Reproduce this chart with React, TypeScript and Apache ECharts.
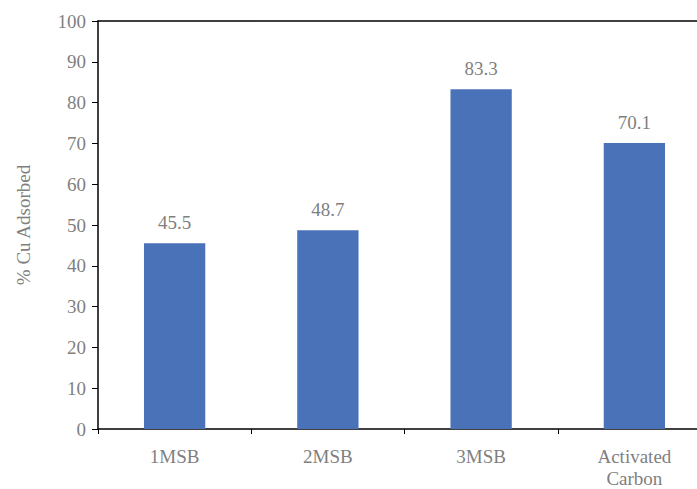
import React, { useEffect, useRef } from "react";
import * as echarts from "echarts";

const categories = ["1MSB", "2MSB", "3MSB", "Activated\nCarbon"];
const values = [45.5, 48.7, 83.3, 70.1];
const yTicks = { min: 0, max: 100, interval: 10 };

const FONT = "'Times New Roman', 'Liberation Serif', 'DejaVu Serif', serif";
const GRAY = "#7f7f7f";

export default function App() {
  const ref = useRef<HTMLDivElement>(null);
  useEffect(() => {
    if (!ref.current) return;
    const chart = echarts.init(ref.current, undefined, { renderer: "svg" });
    chart.setOption({
      animation: false,
      textStyle: { fontFamily: FONT },
      grid: { left: 98, right: 0, top: 21, bottom: 59, containLabel: false },
      xAxis: [
        {
          type: "category",
          data: categories,
          axisLine: { show: true, lineStyle: { color: "#000", width: 1.5 } },
          axisTick: { show: true, length: 5, lineStyle: { color: "#000" } },
          axisLabel: {
            color: GRAY,
            fontFamily: FONT,
            fontSize: 19,
            margin: 16,
            lineHeight: 22,
          },
        },
        {
          type: "category",
          position: "top",
          data: categories,
          axisLine: { show: true, lineStyle: { color: "#000", width: 1.5 } },
          axisTick: { show: false },
          axisLabel: { show: false },
        },
      ],
      yAxis: {
        type: "value",
        min: yTicks.min,
        max: yTicks.max,
        interval: yTicks.interval,
        name: "% Cu Adsorbed",
        nameLocation: "middle",
        nameGap: 65,
        nameTextStyle: { color: GRAY, fontFamily: FONT, fontSize: 19 },
        axisLine: { show: true, lineStyle: { color: "#000", width: 1.5 } },
        axisTick: { show: true, length: 6, lineStyle: { color: "#000" } },
        splitLine: { show: false },
        axisLabel: { color: GRAY, fontFamily: FONT, fontSize: 19, margin: 12 },
      },
      series: [
        {
          type: "bar",
          data: values,
          barWidth: "40%",
          itemStyle: { color: "#4a72b8" },
          label: {
            show: true,
            position: "top",
            distance: 11,
            color: GRAY,
            fontFamily: FONT,
            fontSize: 19,
            formatter: (p: any) => p.value.toFixed(1),
          },
        },
      ],
    });
    return () => chart.dispose();
  }, []);
  return (
    <div
      style={{
        position: "absolute",
        left: 0,
        top: 0,
        width: 697,
        height: 489,
        overflow: "hidden",
        background: "#fff",
      }}
    >
      <div ref={ref} style={{ width: 711, height: 489 }} />
    </div>
  );
}
